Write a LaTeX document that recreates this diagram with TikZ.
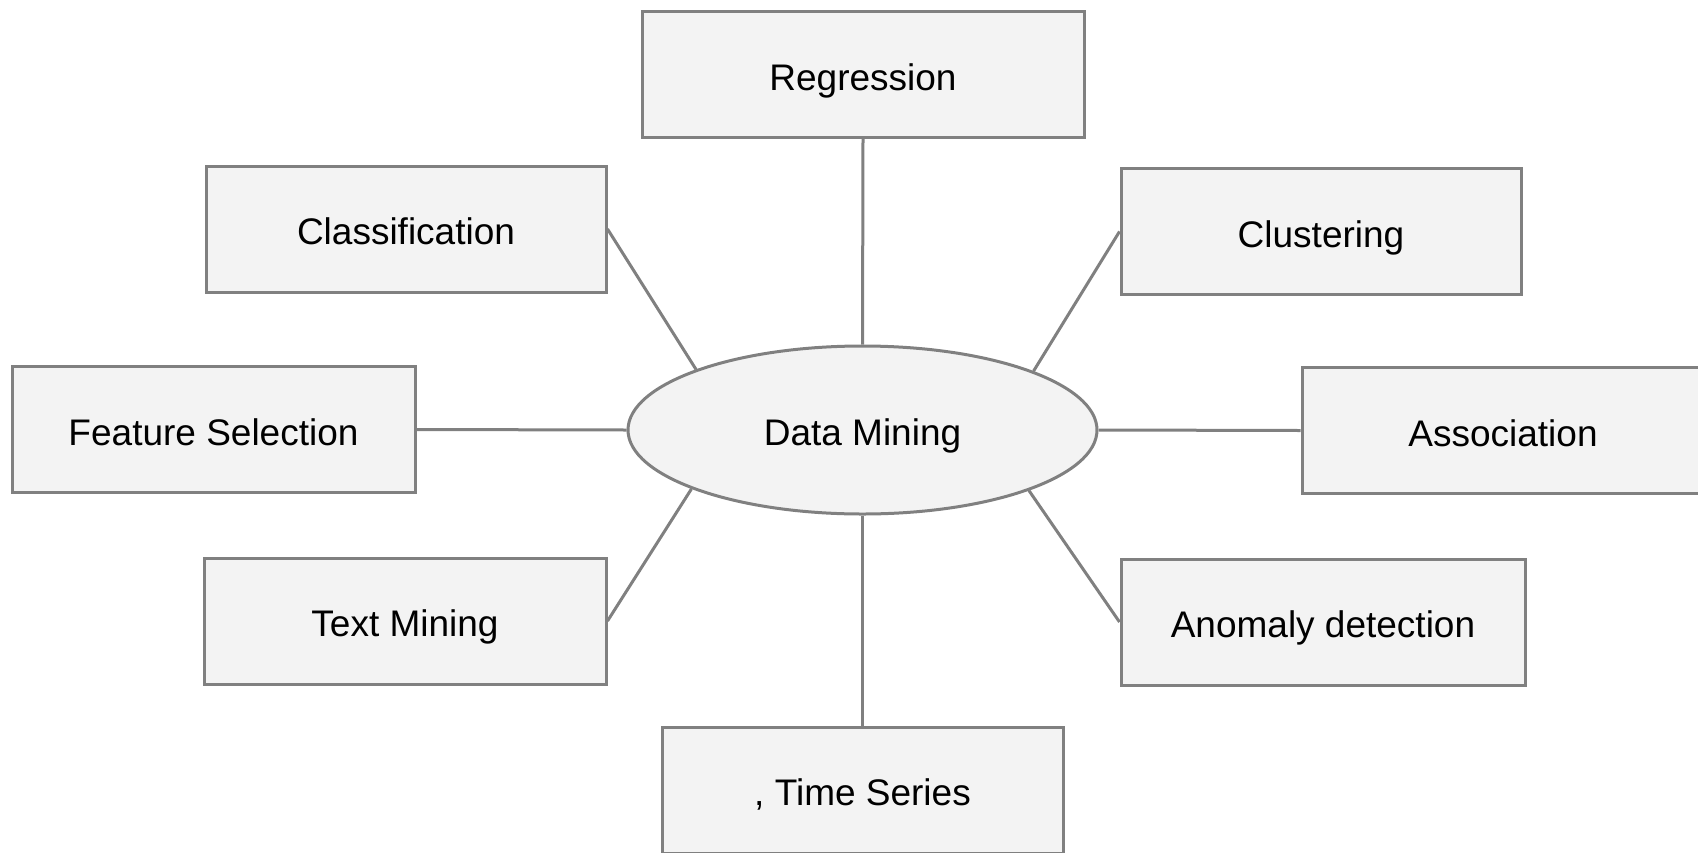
\documentclass[tikz,border=0pt]{standalone}
\usepackage{fontspec}
\setmainfont{Liberation Sans}
\usetikzlibrary{shapes.geometric}
\definecolor{boxfill}{HTML}{F3F3F3}
\definecolor{boxline}{HTML}{808080}
\begin{document}
\begin{tikzpicture}[x=1pt,y=-1pt,
  topic/.style={draw=boxline,fill=boxfill,line width=3pt,inner sep=0pt,
    minimum height=126pt,font=\fontsize{37}{44}\selectfont,
    text height=31.5pt,text depth=0pt},
  hub/.style={draw=boxline,fill=boxfill,line width=3pt,ellipse,inner sep=0pt,
    minimum width=469pt,minimum height=168pt,font=\fontsize{37}{44}\selectfont,
    text height=31.5pt,text depth=0pt},
  link/.style={draw=boxline,line width=3pt}]
\useasboundingbox (0,0) rectangle (1698,852);
\clip (0,0) rectangle (1698,852);
\node[hub] (dm) at (862.5,430) {Data Mining};
\node[topic,minimum width=442pt] (reg) at (863,74.5) {Regression};
\node[topic,minimum width=400pt] (cla) at (406,229) {Classification};
\node[topic,minimum width=400pt] (clu) at (1321,231.5) {Clustering};
\node[topic,minimum width=403pt] (fs) at (213.5,429.5) {Feature Selection};
\node[topic,minimum width=402pt] (as) at (1503,430.5) {Association};
\node[topic,minimum width=402pt] (tm) at (405,621) {Text Mining};
\node[topic,minimum width=404pt] (an) at (1323,622) {Anomaly detection};
\node[topic,minimum width=401pt] (ts) at (862.5,790) {, Time Series};
\draw[link] (dm.north) -- (reg.south);
\draw[link] (dm.160.5) -- (cla.east);
\draw[link] (dm.19.5) -- (clu.west);
\draw[link] (dm.west) -- (fs.east);
\draw[link] (dm.east) -- (as.west);
\draw[link] (dm.199.5) -- (tm.east);
\draw[link] (dm.340.5) -- (an.west);
\draw[link] (dm.south) -- (ts.north);
\end{tikzpicture}
\end{document}
